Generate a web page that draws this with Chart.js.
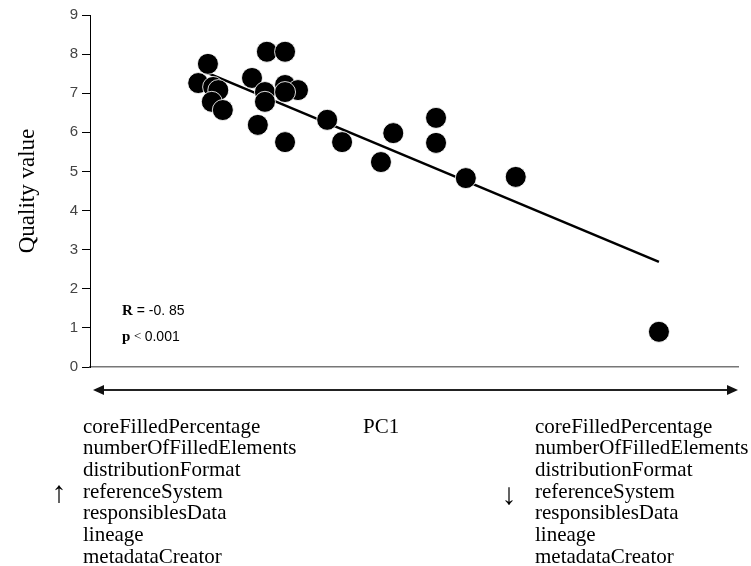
<!DOCTYPE html>
<html>
<head>
<meta charset="utf-8">
<script src="https://cdn.jsdelivr.net/npm/chart.js@4.4.0/dist/chart.umd.min.js"></script>
<style>
  html, body { margin: 0; padding: 0; background: #fff; }
  #wrap { width: 751px; height: 566px; position: relative; }
</style>
</head>
<body>
<div id="wrap"><canvas id="qChart"></canvas></div>
<script>
// PC1 score vs quality value
const pc1 =     [1.82, 1.67, 1.90, 1.98, 1.88, 2.05, 2.50, 2.70, 2.70, 2.73, 3.01, 3.01, 3.21, 3.01, 2.59, 3.01, 3.66, 3.89, 4.68, 4.49, 5.34, 5.34, 5.80, 6.57, 8.78];
const quality = [7.75, 7.26, 7.16, 7.08, 6.78, 6.57, 7.39, 7.03, 6.78, 8.06, 8.06, 7.21, 7.08, 7.03, 6.19, 5.75, 6.32, 5.75, 5.98, 5.24, 6.37, 5.73, 4.83, 4.86, 0.90];

// fitted regression line
const fitX = [1.81, 8.78];
const fitY = [7.52, 2.69];

const yTicks = [0, 1, 2, 3, 4, 5, 6, 7, 8, 9];

const varNames = ['coreFilledPercentage', 'numberOfFilledElements', 'distributionFormat',
  'referenceSystem', 'responsiblesData', 'lineage', 'metadataCreator'];

const SERIF = "'Liberation Serif', 'Times New Roman', serif";
const SANS = "'Liberation Sans', Arial, sans-serif";

// texte + fleche sous le graphique
const extrasPlugin = {
  id: 'extras',
  afterDraw(chart) {
    const ctx = chart.ctx;
    const a = chart.chartArea;
    ctx.save();
    ctx.fillStyle = '#000';
    ctx.textBaseline = 'middle';

    // R et p
    let x = a.left + 32, y = a.bottom - 56;
    ctx.font = 'bold 15px ' + SERIF;
    ctx.fillText('R', x, y);
    let w = ctx.measureText('R').width;
    ctx.font = '14px ' + SANS;
    ctx.fillText(' = -0. 85', x + w, y);
    y += 26;
    ctx.font = 'bold 15px ' + SERIF;
    ctx.fillText('p', x, y);
    w = ctx.measureText('p ').width;
    ctx.font = '13px ' + SERIF;
    ctx.fillText('<', x + w, y);
    w += ctx.measureText('< ').width;
    ctx.font = '14px ' + SANS;
    ctx.fillText('0.001', x + w, y);

    // double fleche PC1
    const ay = a.bottom + 23, x0 = a.left + 3, x1 = a.right;
    ctx.strokeStyle = '#222';
    ctx.lineWidth = 2;
    ctx.beginPath();
    ctx.moveTo(x0 + 6, ay); ctx.lineTo(x1 - 6, ay);
    ctx.stroke();
    ctx.fillStyle = '#111';
    ctx.beginPath();
    ctx.moveTo(x0, ay); ctx.lineTo(x0 + 11, ay - 5); ctx.lineTo(x0 + 11, ay + 5); ctx.closePath();
    ctx.fill();
    ctx.beginPath();
    ctx.moveTo(x1, ay); ctx.lineTo(x1 - 11, ay - 5); ctx.lineTo(x1 - 11, ay + 5); ctx.closePath();
    ctx.fill();

    // colonnes de variables
    ctx.fillStyle = '#000';
    ctx.font = '21px ' + SERIF;
    ctx.textAlign = 'left';
    varNames.forEach((n, i) => {
      ctx.fillText(n, 83, 427 + i * 21.7);
      ctx.fillText(n, 535, 427 + i * 21.7);
    });
    ctx.fillText('PC1', 363, 427);
    ctx.font = '30px ' + SERIF;
    ctx.textAlign = 'center';
    ctx.fillText('\u2191', 59, 494);
    ctx.fillText('\u2193', 509, 496);
    ctx.restore();
  }
};

const ctx = document.getElementById('qChart').getContext('2d');
new Chart(ctx, {
  type: 'scatter',
  data: {
    datasets: [
      {
        label: 'fit', type: 'line',
        data: fitX.map((v, i) => ({ x: v, y: fitY[i] })),
        borderColor: '#000', borderWidth: 2.5, pointRadius: 0, fill: false, order: 2
      },
      {
        label: 'quality',
        data: pc1.map((v, i) => ({ x: v, y: quality[i] })),
        backgroundColor: '#000', borderColor: 'rgba(255,255,255,0.85)', borderWidth: 1,
        pointRadius: 10.5, order: 1
      }
    ]
  },
  options: {
    responsive: true, maintainAspectRatio: false, animation: false,
    layout: { padding: { left: 14, right: 13, top: 15, bottom: 0 } },
    plugins: { legend: { display: false }, tooltip: { enabled: false } },
    scales: {
      x: {
        type: 'linear', min: 0, max: 10,
        ticks: { display: false },
        grid: { display: false },
        border: { display: true, color: '#777', width: 1.5 },
        afterFit: s => { s.height = 199; }
      },
      y: {
        min: 0, max: 9,
        afterBuildTicks: s => { s.ticks = yTicks.map(v => ({ value: v })); },
        ticks: { color: '#444', font: { family: SANS, size: 15 }, padding: 4 },
        grid: { drawOnChartArea: false, drawTicks: true, tickLength: 8, color: '#000' },
        border: { display: true, color: '#000', width: 1 },
        title: { display: true, text: 'Quality value', color: '#000', font: { family: SERIF, size: 23 }, padding: 0 },
        afterFit: s => { s.width = 76; }
      }
    }
  },
  plugins: [extrasPlugin]
});
</script>
</body>
</html>
